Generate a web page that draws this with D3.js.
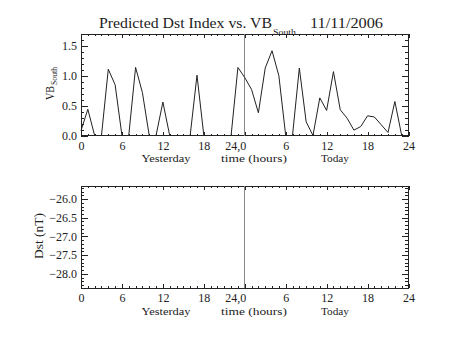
<!DOCTYPE html>
<html>
<head>
<meta charset="utf-8">
<script src="https://cdn.jsdelivr.net/npm/d3@7/dist/d3.min.js"></script>
<style>
  html, body { margin: 0; padding: 0; background: #fff; }
  svg { display: block; }
  text { font-family: "Liberation Serif", "DejaVu Serif", serif; fill: #222; }
  .axis path { display: none; }
  .axis line { stroke: #222; shape-rendering: crispEdges; }
  .axis text { font-size: 12px; fill: #222; font-family: "Liberation Serif", serif; }
</style>
</head>
<body>
<svg id="chart" width="453" height="340"></svg>
<script>
// ---- Data ----
const hours = d3.range(0, 49); // hourly, 0..48 (yesterday 0-24, today 0-24)
const vbSouth = [0.08, 0.44, 0, 0, 1.11, 0.85, 0, 0, 1.14, 0.72, 0, 0, 0.56, 0, 0, 0, 0, 1.01, 0, 0, 0, 0, 0, 1.14,
                 0.97, 0.77, 0.38, 1.13, 1.42, 1.0, 0, 0, 1.13, 0.23, 0, 0.63, 0.42, 1.07, 0.43, 0.29, 0.09, 0.15, 0.33, 0.31, 0.18, 0.05, 0.57, 0, 0];
const dstValues = []; // no Dst prediction plotted
const xMajorTicks = [0, 6, 12, 18, 24, 30, 36, 42, 48];
const xTickLabels = ["0", "6", "12", "18", "24,0", "6", "12", "18", "24"];
const vbTicks = [0, 0.5, 1.0, 1.5];
const dstTicks = [-28.0, -27.5, -27.0, -26.5, -26.0];
const vbDomain = [0, 1.7];
const dstDomain = [-28.38, -25.65];
const titleText = "Predicted Dst Index vs. VB";
const titleSub = "South";
const dateText = "11/11/2006";

// ---- Layout ----
const svg = d3.select("#chart");
svg.append("rect").attr("width", 453).attr("height", 340).attr("fill", "#fff");

const x = d3.scaleLinear().domain([0, 48]).range([81, 408.5]);
const yTop = d3.scaleLinear().domain(vbDomain).range([135.5, 34]);
const yBot = d3.scaleLinear().domain(dstDomain).range([288, 186]);

const xMinor = d3.range(0, 49).filter(h => h % 6 !== 0);

function drawPanel(y, yMajor, yMinor, yFmt) {
  const [y0, y1] = y.range();
  const g = svg.append("g");
  // bottom axis
  g.append("g").attr("class", "axis").attr("transform", `translate(0,${y0})`)
    .call(d3.axisBottom(x).tickValues(xMinor).tickSizeInner(-2).tickSizeOuter(0).tickFormat(""));
  const xb = g.append("g").attr("class", "axis").attr("transform", `translate(0,${y0})`)
    .call(d3.axisBottom(x).tickValues(xMajorTicks).tickSizeInner(-4).tickSizeOuter(0).tickPadding(5.5)
      .tickFormat((d, i) => xTickLabels[i]));
  xb.selectAll(".tick text").filter(d => d === 24).attr("text-anchor", "end").attr("dx", "1");
  // top axis
  g.append("g").attr("class", "axis").attr("transform", `translate(0,${y1})`)
    .call(d3.axisTop(x).tickValues(xMinor).tickSizeInner(-2).tickSizeOuter(0).tickFormat(""));
  g.append("g").attr("class", "axis").attr("transform", `translate(0,${y1})`)
    .call(d3.axisTop(x).tickValues(xMajorTicks).tickSizeInner(-4).tickSizeOuter(0).tickFormat(""));
  // left axis
  g.append("g").attr("class", "axis").attr("transform", `translate(${x.range()[0]},0)`)
    .call(d3.axisLeft(y).tickValues(yMinor).tickSizeInner(-3.3).tickSizeOuter(0).tickFormat(""));
  g.append("g").attr("class", "axis").attr("transform", `translate(${x.range()[0]},0)`)
    .call(d3.axisLeft(y).tickValues(yMajor).tickSizeInner(-6.5).tickSizeOuter(0).tickPadding(4).tickFormat(yFmt));
  // right axis
  g.append("g").attr("class", "axis").attr("transform", `translate(${x.range()[1]},0)`)
    .call(d3.axisRight(y).tickValues(yMinor).tickSizeInner(-3.3).tickSizeOuter(0).tickFormat(""));
  g.append("g").attr("class", "axis").attr("transform", `translate(${x.range()[1]},0)`)
    .call(d3.axisRight(y).tickValues(yMajor).tickSizeInner(-6.5).tickSizeOuter(0).tickFormat(""));
  // box
  g.append("rect")
    .attr("x", x.range()[0]).attr("y", y1)
    .attr("width", x.range()[1] - x.range()[0]).attr("height", y0 - y1)
    .attr("fill", "none").attr("stroke", "#222").attr("stroke-width", 1)
    .attr("shape-rendering", "crispEdges");
  // vertical divider at 24h
  g.append("line")
    .attr("x1", x(24)).attr("x2", x(24)).attr("y1", y1).attr("y2", y0)
    .attr("stroke", "#888").attr("stroke-width", 1).attr("shape-rendering", "crispEdges");
  // axis titles under x
  const lblY = y0 + 26.5;
  g.append("text").attr("x", 166).attr("y", lblY).attr("text-anchor", "middle")
    .attr("font-size", 10.5).attr("textLength", 49).attr("lengthAdjust", "spacingAndGlyphs").text("Yesterday");
  g.append("text").attr("x", 254).attr("y", lblY).attr("text-anchor", "middle")
    .attr("font-size", 10.5).attr("textLength", 66).attr("lengthAdjust", "spacingAndGlyphs").text("time (hours)");
  g.append("text").attr("x", 335).attr("y", lblY).attr("text-anchor", "middle")
    .attr("font-size", 10.5).attr("textLength", 28).attr("lengthAdjust", "spacingAndGlyphs").text("Today");
  return g;
}

const eps = 1e-9;
const vbMinor = d3.range(0, 1.7 + eps, 0.1).map(v => +v.toFixed(1)).filter(v => Math.abs(v * 2 - Math.round(v * 2)) > eps);
const dstMinor = d3.range(-28.3, -25.65, 0.1).map(v => +v.toFixed(1)).filter(v => Math.abs(v * 2 - Math.round(v * 2)) > eps);

const panelTop = drawPanel(yTop, vbTicks, vbMinor, d3.format(".1f"));
const panelBot = drawPanel(yBot, dstTicks, dstMinor, d => d.toFixed(1).replace("-", "\u2212"));

// data line (top)
const vbLine = d3.line().x((d, i) => x(hours[i])).y(d => yTop(d));
panelTop.append("path").datum(vbSouth)
  .attr("d", vbLine).attr("fill", "none").attr("stroke", "#222").attr("stroke-width", 1);

// Dst line (bottom) - empty
if (dstValues.length) {
  const dstLine = d3.line().x((d, i) => x(hours[i])).y(d => yBot(d));
  panelBot.append("path").datum(dstValues).attr("d", dstLine).attr("fill", "none").attr("stroke", "#222");
}

// Title
svg.append("text").attr("x", 99).attr("y", 28).attr("font-size", 15)
  .attr("textLength", 173).attr("lengthAdjust", "spacingAndGlyphs").text(titleText);
svg.append("text").attr("x", 273).attr("y", 35).attr("font-size", 9)
  .attr("textLength", 23).attr("lengthAdjust", "spacingAndGlyphs").text(titleSub);
svg.append("text").attr("x", 310).attr("y", 28).attr("font-size", 15)
  .attr("textLength", 73).attr("lengthAdjust", "spacingAndGlyphs").text(dateText);

// Y titles
const yt = svg.append("g").attr("transform", "translate(53.5,100) rotate(-90)");
yt.append("text").attr("x", 0).attr("y", 0).attr("font-size", 13)
  .attr("textLength", 14).attr("lengthAdjust", "spacingAndGlyphs").text("VB");
yt.append("text").attr("x", 15).attr("y", 3.5).attr("font-size", 8)
  .attr("textLength", 18).attr("lengthAdjust", "spacingAndGlyphs").text("South");

const yb = svg.append("g").attr("transform", "translate(42.5,259) rotate(-90)");
yb.append("text").attr("x", 0).attr("y", 0).attr("font-size", 13)
  .attr("textLength", 46).attr("lengthAdjust", "spacingAndGlyphs").text("Dst (nT)");
</script>
</body>
</html>
